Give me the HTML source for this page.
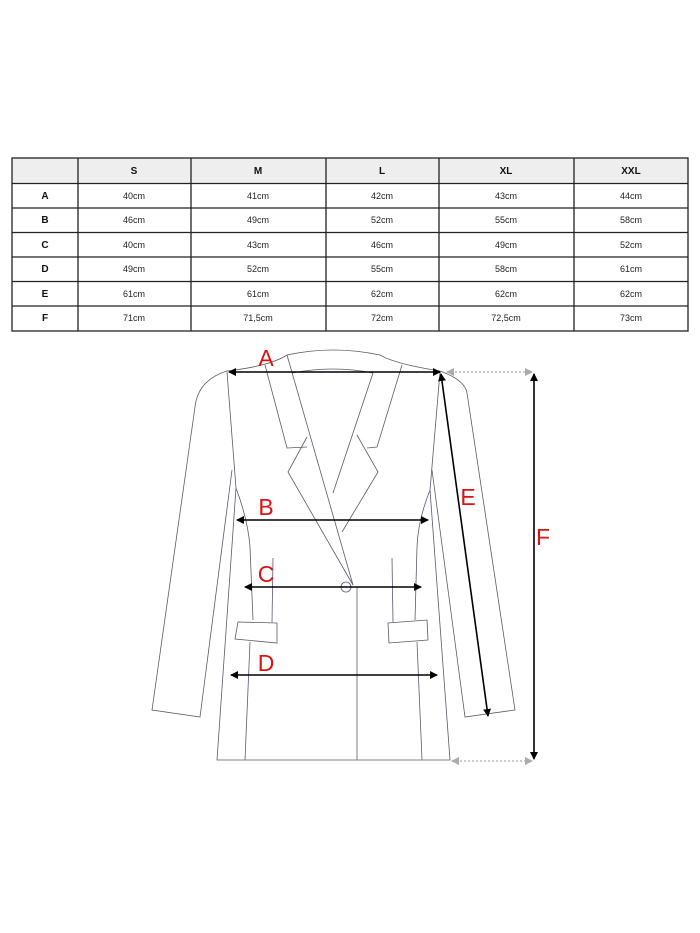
<!DOCTYPE html>
<html><head><style>
html,body{margin:0;padding:0;background:#fff;width:700px;height:933px;overflow:hidden}
svg{display:block}
.t{font-family:"Liberation Sans",Arial,sans-serif;font-size:9px;fill:#222;text-anchor:middle}
.h{font-weight:bold;font-size:10px;fill:#111}
.j{fill:none;stroke:#5a5a6a;stroke-width:0.8}
.r{font-family:"Liberation Sans",Arial,sans-serif;font-size:23px;fill:#d11;text-anchor:middle}
</style></head><body>
<svg width="700" height="933" viewBox="0 0 700 933" xmlns="http://www.w3.org/2000/svg">
<defs>
<marker id="ar" markerWidth="8" markerHeight="8" refX="7" refY="4" orient="auto-start-reverse" markerUnits="userSpaceOnUse"><path d="M0,0 L8,4 L0,8 Z" fill="#000"/></marker>
<marker id="ag" markerWidth="8" markerHeight="8" refX="7" refY="4" orient="auto-start-reverse" markerUnits="userSpaceOnUse"><path d="M0,0 L8,4 L0,8 Z" fill="#aaa"/></marker>
</defs>
<!-- table -->
<rect x="12" y="158" width="676" height="25.5" fill="#eeeeee"/>
<g stroke="#222" stroke-width="1.3" fill="none">
<rect x="12" y="158" width="676" height="173"/>
<line x1="12" y1="183.5" x2="688" y2="183.5"/>
<line x1="12" y1="208" x2="688" y2="208"/>
<line x1="12" y1="232.5" x2="688" y2="232.5"/>
<line x1="12" y1="257" x2="688" y2="257"/>
<line x1="12" y1="281.5" x2="688" y2="281.5"/>
<line x1="12" y1="306" x2="688" y2="306"/>
<line x1="78" y1="158" x2="78" y2="331"/>
<line x1="191" y1="158" x2="191" y2="331"/>
<line x1="326" y1="158" x2="326" y2="331"/>
<line x1="439" y1="158" x2="439" y2="331"/>
<line x1="574" y1="158" x2="574" y2="331"/>
</g>
<g class="t h">
<text x="134" y="174">S</text><text x="258" y="174">M</text><text x="382" y="174">L</text><text x="506" y="174">XL</text><text x="631" y="174">XXL</text>
<text x="45" y="199">A</text><text x="45" y="223">B</text><text x="45" y="248">C</text><text x="45" y="272">D</text><text x="45" y="297">E</text><text x="45" y="321">F</text>
</g>
<g class="t">
<text x="134" y="199">40cm</text><text x="258" y="199">41cm</text><text x="382" y="199">42cm</text><text x="506" y="199">43cm</text><text x="631" y="199">44cm</text>
<text x="134" y="223">46cm</text><text x="258" y="223">49cm</text><text x="382" y="223">52cm</text><text x="506" y="223">55cm</text><text x="631" y="223">58cm</text>
<text x="134" y="248">40cm</text><text x="258" y="248">43cm</text><text x="382" y="248">46cm</text><text x="506" y="248">49cm</text><text x="631" y="248">52cm</text>
<text x="134" y="272">49cm</text><text x="258" y="272">52cm</text><text x="382" y="272">55cm</text><text x="506" y="272">58cm</text><text x="631" y="272">61cm</text>
<text x="134" y="297">61cm</text><text x="258" y="297">61cm</text><text x="382" y="297">62cm</text><text x="506" y="297">62cm</text><text x="631" y="297">62cm</text>
<text x="134" y="321">71cm</text><text x="258" y="321">71,5cm</text><text x="382" y="321">72cm</text><text x="506" y="321">72,5cm</text><text x="631" y="321">73cm</text>
</g>
<!-- jacket -->
<g class="j">
<path d="M287,355 Q333,345 380,355"/>
<path d="M287,355 Q270,366 227,371"/>
<path d="M380,355 Q395,364 440,371"/>
<path d="M227,371 Q198,380 195,407 L152,710 L200,717 L232,470"/>
<path d="M440,371 Q465,380 467,393 L515,710 L465,717 L432,470"/>
<path d="M227,372 L236,488 L217,760 L450,760 L430,490 L440,372"/>
<path d="M236,488 Q248,520 250,547 L253,620"/>
<path d="M430,490 Q418,520 417,547 L415,620"/>
<path d="M245,760 L250,642"/>
<path d="M422,760 L417,642"/>
<path d="M292,373 Q333,365 373,373"/>
<path d="M265,365 L287,448 L307,447"/>
<path d="M307,437 L288,472 L353,585"/>
<path d="M287,355 L353,585"/>
<path d="M402,365 L377,447 L367,448"/>
<path d="M357,435 L378,472 L342,532"/>
<path d="M373,373 L333,493"/>
<path d="M357,587 L357,760"/>
<circle cx="346" cy="587" r="5"/>
<path d="M238,622 L277,623 L277,643 L235,639 Z"/>
<path d="M388,623 L427,620 L428,640 L389,643 Z"/>
<path d="M273,558 L272,622"/>
<path d="M392,558 L393,622"/>
</g>
<!-- arrows -->
<g stroke="#000" stroke-width="1.6">
<line x1="229" y1="372" x2="440" y2="372" marker-start="url(#ar)" marker-end="url(#ar)"/>
<line x1="237" y1="520" x2="428" y2="520" marker-start="url(#ar)" marker-end="url(#ar)"/>
<line x1="245" y1="587" x2="421" y2="587" marker-start="url(#ar)" marker-end="url(#ar)"/>
<line x1="231" y1="675" x2="437" y2="675" marker-start="url(#ar)" marker-end="url(#ar)"/>
<line x1="441" y1="374" x2="488" y2="716" marker-start="url(#ar)" marker-end="url(#ar)"/>
<line x1="534" y1="374" x2="534" y2="759" marker-start="url(#ar)" marker-end="url(#ar)"/>
</g>
<g stroke="#aaa" stroke-width="1.2" stroke-dasharray="2,2">
<line x1="447" y1="372" x2="532" y2="372" marker-start="url(#ag)" marker-end="url(#ag)"/>
<line x1="452" y1="761" x2="532" y2="761" marker-start="url(#ag)" marker-end="url(#ag)"/>
</g>
<text class="r" x="266" y="366">A</text>
<text class="r" x="266" y="515">B</text>
<text class="r" x="266" y="582">C</text>
<text class="r" x="266" y="671">D</text>
<text class="r" x="468" y="505">E</text>
<text class="r" x="543" y="545">F</text>
</svg>
</body></html>
